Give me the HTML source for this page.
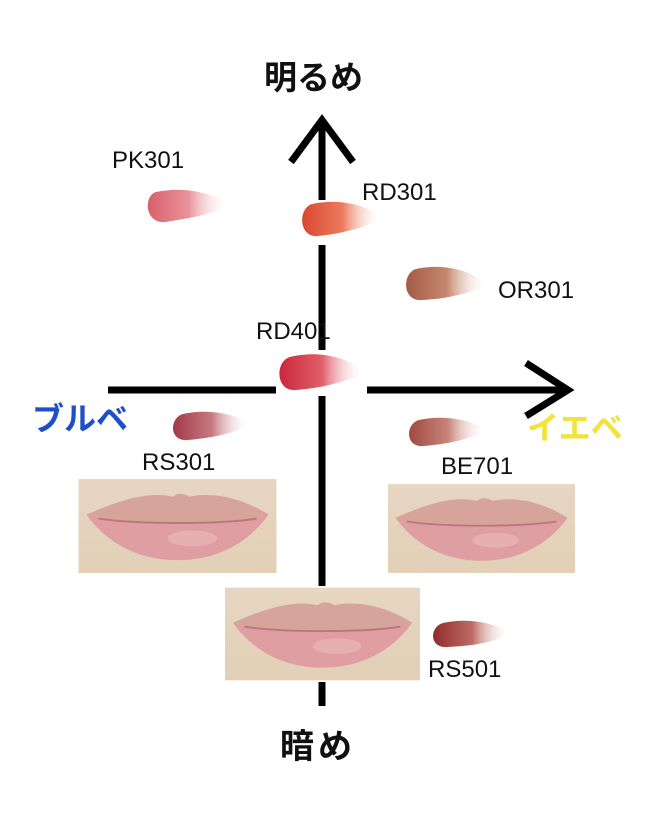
<!DOCTYPE html>
<html><head><meta charset="utf-8"><style>
body{margin:0;background:#fff;}
.w{position:relative;width:654px;height:834px;overflow:hidden;background:#fff;font-family:"Liberation Sans","Noto Sans CJK JP",sans-serif;}
.l{position:absolute;font-size:24px;color:#111;line-height:1;}
.j{position:absolute;font-weight:bold;line-height:1;font-family:"Noto Sans CJK JP",sans-serif;}
</style></head><body><div class="w">
<svg width="654" height="834" style="position:absolute;left:0;top:0">
<defs>
<linearGradient id="g1"><stop offset="0" stop-color="#d9606a"/><stop offset=".5" stop-color="#e8939a"/><stop offset="1" stop-color="#fff" stop-opacity="0"/></linearGradient>
<linearGradient id="g2"><stop offset="0" stop-color="#d8482e"/><stop offset=".5" stop-color="#ec7a5e"/><stop offset="1" stop-color="#fff" stop-opacity="0"/></linearGradient>
<linearGradient id="g3"><stop offset="0" stop-color="#a45a46"/><stop offset=".5" stop-color="#c68870"/><stop offset="1" stop-color="#fff" stop-opacity="0"/></linearGradient>
<linearGradient id="g4"><stop offset="0" stop-color="#c9283a"/><stop offset=".5" stop-color="#e0606a"/><stop offset="1" stop-color="#fff" stop-opacity="0"/></linearGradient>
<linearGradient id="g5"><stop offset="0" stop-color="#a03a48"/><stop offset=".5" stop-color="#c87a80"/><stop offset="1" stop-color="#fff" stop-opacity="0"/></linearGradient>
<linearGradient id="g6"><stop offset="0" stop-color="#a04a40"/><stop offset=".5" stop-color="#c8847a"/><stop offset="1" stop-color="#fff" stop-opacity="0"/></linearGradient>
<linearGradient id="g7"><stop offset="0" stop-color="#8e2e2a"/><stop offset=".5" stop-color="#c06a64"/><stop offset="1" stop-color="#fff" stop-opacity="0"/></linearGradient>
<linearGradient id="sk" x1="0" y1="0" x2="0" y2="1"><stop offset="0" stop-color="#e6d6c2"/><stop offset="1" stop-color="#e2cfb6"/></linearGradient>
<symbol id="lip" viewBox="0 0 200 95">
<rect width="200" height="95" fill="url(#sk)"/>
<path d="M8,36 C40,22 70,12 95,18 C100,14 106,14 112,18 C140,12 170,22 192,36 C170,44 140,46 100,44 C60,46 30,44 8,36Z" fill="#d7a49c"/>
<path d="M8,36 C40,42 70,46 100,44 C130,46 165,42 192,36 C175,60 145,82 100,82 C55,82 25,60 8,36Z" fill="#de9ea2"/>
<path d="M20,40 C60,46 140,46 180,40" stroke="#b87a78" stroke-width="2" fill="none"/>
<ellipse cx="115" cy="60" rx="25" ry="8" fill="#eab8ba" opacity=".7"/>
</symbol>
</defs>
<use href="#lip" x="78" y="479" width="199" height="94" preserveAspectRatio="none"/>
<use href="#lip" x="388" y="483" width="187" height="91" preserveAspectRatio="none"/>
<use href="#lip" x="225" y="586" width="195" height="96" preserveAspectRatio="none"/>
<g fill="none" stroke="#000" stroke-width="7">
<line x1="322" y1="122" x2="322" y2="200"/>
<line x1="322" y1="245" x2="322" y2="350"/>
<line x1="322" y1="396" x2="322" y2="586"/>
<line x1="322" y1="682" x2="322" y2="706"/>
<line x1="108" y1="390" x2="276" y2="390"/>
<line x1="367" y1="390" x2="568" y2="390"/>
<polyline points="291,162 322,120 353,162"/>
<polyline points="526,363 568,390 526,416"/>
</g>
<g>
<path d="M156,192 C175,188 205,188 230,205 C215,214 190,218 165,222 C145,224 143,196 156,192Z" fill="url(#g1)"/>
<path d="M312,204 C330,200 360,200 383,218 C365,228 340,234 318,236 C298,238 298,208 312,204Z" fill="url(#g2)"/>
<path d="M416,269 C434,265 463,265 488,284 C470,294 445,299 422,300 C402,302 402,273 416,269Z" fill="url(#g3)"/>
<path d="M290,357 C310,352 340,352 365,372 C345,383 320,388 296,390 C275,392 275,361 290,357Z" fill="url(#g4)"/>
<path d="M183,414 C200,410 228,410 251,424 C234,434 210,438 188,440 C169,442 169,418 183,414Z" fill="url(#g5)"/>
<path d="M419,420 C436,416 464,416 487,430 C470,440 446,444 424,446 C405,448 405,424 419,420Z" fill="url(#g6)"/>
<path d="M443,623 C460,619 488,619 511,633 C494,643 470,646 448,647 C429,649 429,627 443,623Z" fill="url(#g7)"/>
</g>
</svg>
<div class="l" style="left:112px;top:149px">PK301</div>
<div class="l" style="left:362px;top:181px">RD301</div>
<div class="l" style="left:498px;top:279px">OR301</div>
<div class="l" style="left:256px;top:320px">RD401</div>
<div class="l" style="left:142px;top:451px">RS301</div>
<div class="l" style="left:441px;top:455px">BE701</div>
<div class="l" style="left:428px;top:658px">RS501</div>
<div class="j" style="left:264px;top:59px;font-size:33px;color:#111">明るめ</div>
<div class="j" style="left:280px;top:727px;font-size:34px;color:#111;letter-spacing:4px">暗め</div>
<div class="j" style="left:32px;top:401px;font-size:32px;color:#1e4fc8">ブルベ</div>
<div class="j" style="left:527px;top:410px;font-size:32px;color:#f2e23a">イエベ</div>
</div></body></html>
